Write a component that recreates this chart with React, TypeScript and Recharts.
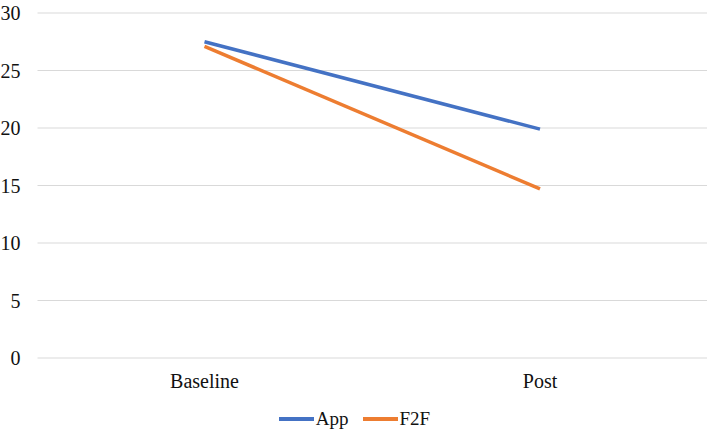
import React from "react";
import { LineChart, Line, XAxis, YAxis, CartesianGrid, Legend } from "recharts";

const categories = ["Baseline", "Post"];
const appValues = [27.5, 19.9];
const f2fValues = [27.1, 14.7];
const yTicks = [0, 5, 10, 15, 20, 25, 30];

const data = categories.map((c, i) => ({ name: c, App: appValues[i], F2F: f2fValues[i] }));

const FONT = "'Liberation Serif', 'Times New Roman', 'DejaVu Serif', serif";
const BLUE = "#4472C4";
const ORANGE = "#ED7D31";
const TEXT = "#111";

const LegendContent = () => (
  <div style={{ display: "flex", justifyContent: "center", alignItems: "center", fontFamily: FONT, fontSize: 19, color: TEXT, lineHeight: "22px", height: 22 }}>
    {[{ n: "App", c: BLUE }, { n: "F2F", c: ORANGE }].map((s, i) => (
      <div key={s.n} style={{ display: "flex", alignItems: "center", marginLeft: i ? 14 : 0 }}>
        <div style={{ width: 35, height: 3.5, background: s.c, marginRight: 2 }} />
        <span>{s.n}</span>
      </div>
    ))}
  </div>
);

export default function App() {
  return (
    <div style={{ position: "absolute", left: 0, top: 0, width: 709, height: 432, background: "#fff", fontFamily: FONT }}>
      <LineChart width={709} height={432} data={data} margin={{ top: 13, right: 2, left: 0, bottom: 44 }} style={{ fontFamily: FONT }}>
        <CartesianGrid vertical={false} stroke="#D9D9D9" strokeWidth={1} />
        <XAxis
          dataKey="name"
          height={30}
          axisLine={false}
          tickLine={false}
          tickSize={6}
          tickMargin={10}
          padding={{ left: 167, right: 167 }}
          tick={{ fontFamily: FONT, fontSize: 20, fill: TEXT }}
        />
        <YAxis
          domain={[0, 30]}
          ticks={yTicks}
          width={37.5}
          axisLine={false}
          tickLine={false}
          tickSize={6}
          tickMargin={11}
          tick={{ fontFamily: FONT, fontSize: 20, fill: TEXT }}
        />
        <Legend content={<LegendContent />} wrapperStyle={{ top: 408, left: 0, width: 709, height: 0, overflow: "visible" }} />
        <Line type="linear" dataKey="App" stroke={BLUE} strokeWidth={3.5} dot={false} isAnimationActive={false} />
        <Line type="linear" dataKey="F2F" stroke={ORANGE} strokeWidth={3.5} dot={false} isAnimationActive={false} />
      </LineChart>
    </div>
  );
}
